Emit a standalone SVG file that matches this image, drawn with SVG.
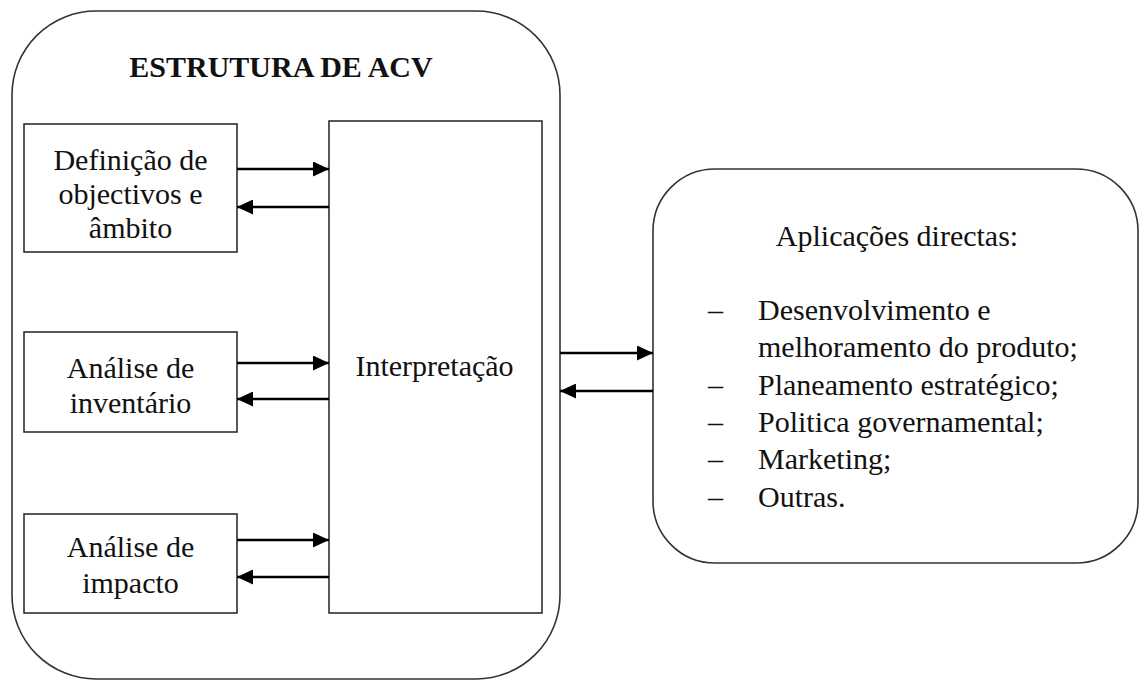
<svg xmlns="http://www.w3.org/2000/svg" width="1139" height="691" viewBox="0 0 1139 691">
<style>
.frame{fill:#fff;stroke:#333;stroke-width:1.6}
.box{fill:#fff;stroke:#222;stroke-width:1.5}
.t{font-family:"Liberation Serif","Times New Roman",serif;font-size:30px;fill:#111;text-anchor:middle}
.l{font-family:"Liberation Serif","Times New Roman",serif;font-size:30px;fill:#111}
.title{font-family:"Liberation Serif","Times New Roman",serif;font-size:30px;font-weight:bold;fill:#111;text-anchor:middle}
.c{stroke:#000;stroke-width:2.6;fill:none;marker-end:url(#ah)}
</style>
<defs>
<marker id="ah" viewBox="0 0 16 15" refX="16" refY="7.5" markerWidth="16" markerHeight="15" markerUnits="userSpaceOnUse" orient="auto">
<path d="M0,0 L16,7.5 L0,15 z" fill="#000"/>
</marker>
</defs>
<rect width="1139" height="691" fill="#fff"/>
<g id="estrutura">
<rect class="frame" x="12" y="11" width="548" height="668" rx="84" ry="84"/>
<text class="title" x="281" y="77">ESTRUTURA DE ACV</text>
</g>
<g id="definicao">
<rect class="box" x="24" y="124" width="213" height="128"/>
<text class="t" x="130.5" y="170">Definição de</text>
<text class="t" x="130.5" y="204">objectivos e</text>
<text class="t" x="130.5" y="238">âmbito</text>
</g>
<g id="inventario">
<rect class="box" x="24" y="332" width="213" height="100"/>
<text class="t" x="130.5" y="378">Análise de</text>
<text class="t" x="130.5" y="413">inventário</text>
</g>
<g id="impacto">
<rect class="box" x="24" y="514" width="213" height="99"/>
<text class="t" x="130.5" y="557">Análise de</text>
<text class="t" x="130.5" y="593">impacto</text>
</g>
<g id="interpretacao">
<rect class="box" x="329" y="121" width="213" height="492"/>
<text class="t" x="434.5" y="376">Interpretação</text>
</g>
<g id="aplicacoes">
<rect class="frame" x="653" y="169" width="485" height="394" rx="62" ry="62"/>
<text class="t" x="897" y="246">Aplicações directas:</text>
<text class="l" x="708" y="320">–</text>
<text class="l" x="758" y="320">Desenvolvimento e</text>
<text class="l" x="758" y="357">melhoramento do produto;</text>
<text class="l" x="708" y="395">–</text>
<text class="l" x="758" y="395">Planeamento estratégico;</text>
<text class="l" x="708" y="432">–</text>
<text class="l" x="758" y="432">Politica governamental;</text>
<text class="l" x="708" y="469">–</text>
<text class="l" x="758" y="469">Marketing;</text>
<text class="l" x="708" y="507">–</text>
<text class="l" x="758" y="507">Outras.</text>
</g>
<g id="connectors">
<line class="c" x1="237" y1="169" x2="329" y2="169"/>
<line class="c" x1="329" y1="207" x2="237" y2="207"/>
<line class="c" x1="237" y1="363" x2="329" y2="363"/>
<line class="c" x1="329" y1="399" x2="237" y2="399"/>
<line class="c" x1="237" y1="540" x2="329" y2="540"/>
<line class="c" x1="329" y1="577" x2="237" y2="577"/>
<line class="c" x1="560" y1="353" x2="653" y2="353"/>
<line class="c" x1="653" y1="391" x2="560" y2="391"/>
</g>
</svg>
